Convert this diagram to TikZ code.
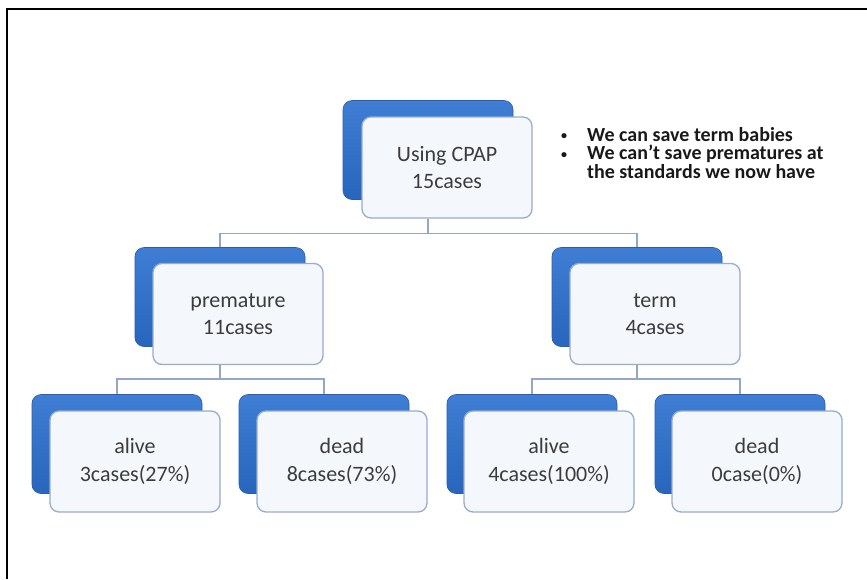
\documentclass[tikz,border=0pt]{standalone}
\usepackage{fontspec}
\setmainfont{Carlito}
\usetikzlibrary{calc}
\definecolor{backtop}{HTML}{3F7ED4}
\definecolor{backbot}{HTML}{2865BC}
\definecolor{backedge}{HTML}{2A5EAA}
\definecolor{frontfill}{HTML}{F4F7FC}
\definecolor{frontedge}{HTML}{98ADCA}
\definecolor{connc}{HTML}{94A8C6}
\definecolor{txt}{HTML}{3C3C3C}
\newcommand{\smallbul}{\makebox[27pt][l]{\hspace*{1pt}\raisebox{1.5pt}{\fontsize{12}{12}\selectfont\textbullet}}}
\tikzset{
  backbox/.style={rectangle, rounded corners=9pt, minimum width=170pt, minimum height=99pt,
    top color=backtop, bottom color=backbot, draw=backedge, line width=0.6pt, inner sep=0pt},
  frontbox/.style={rectangle, rounded corners=9pt, minimum width=170pt, minimum height=101pt,
    fill=frontfill, draw=frontedge, line width=1.3pt, align=center, text=txt,
    font=\fontsize{22}{27.5}\selectfont, inner sep=0pt},
  conn/.style={draw=connc, line width=1.6pt},
  notesstyle/.style={align=left, inner sep=0pt, font=\bfseries\fontsize{20}{18.5}\selectfont, text=black!90}
}
\begin{document}
\begin{tikzpicture}[x=1pt,y=-1pt]
\useasboundingbox (0,0) rectangle (867,579);
\fill[white] (0,0) rectangle (867,579);
\draw[line width=2pt] (7,579) -- (7,9) -- (867,9);

% back boxes
\node[backbox] (topB) at (428,150) {};
\node[backbox] (premB) at (220,297) {};
\node[backbox] (termB) at (637,297) {};
\node[backbox] (alLB) at (117,444) {};
\node[backbox] (deLB) at (324,444) {};
\node[backbox] (alRB) at (532,444) {};
\node[backbox] (deRB) at (740,444) {};

% front boxes
\node[frontbox] (topF) at (447,167.5) {Using CPAP\\15cases};
\node[frontbox] (premF) at (238,314) {premature\\11cases};
\node[frontbox] (termF) at (655,314) {term\\4cases};
\node[frontbox] (alLF) at (135,461.5) {alive\\3cases(27\%)};
\node[frontbox] (deLF) at (342,461.5) {dead\\8cases(73\%)};
\node[frontbox] (alRF) at (549,461.5) {alive\\4cases(100\%)};
\node[frontbox] (deRF) at (757,461.5) {dead\\0case(0\%)};

% connectors
\coordinate (j1) at ($(topF.south -| topB.center)+(0,15)$);
\draw[conn] (topF.south -| topB.center) -- (j1);
\draw[conn] (j1) -| (premB.north);
\draw[conn] (j1) -| (termB.north);

\coordinate (j2) at ($(premF.south -| premB.center)+(0,14)$);
\draw[conn] (premF.south -| premB.center) -- (j2);
\draw[conn] (j2) -| (alLB.north);
\draw[conn] (j2) -| (deLB.north);

\coordinate (j3) at ($(termF.south -| termB.center)+(0,14)$);
\draw[conn] (termF.south -| termB.center) -- (j3);
\draw[conn] (j3) -| (alRB.north);
\draw[conn] (j3) -| (deRB.north);

% notes
\node[notesstyle, anchor=west] (notes) at (560,153)
  {\smallbul We can save term babies\\
   \smallbul We can’t save prematures at\\
   \hspace*{27pt}the standards we now have};
\end{tikzpicture}
\end{document}
